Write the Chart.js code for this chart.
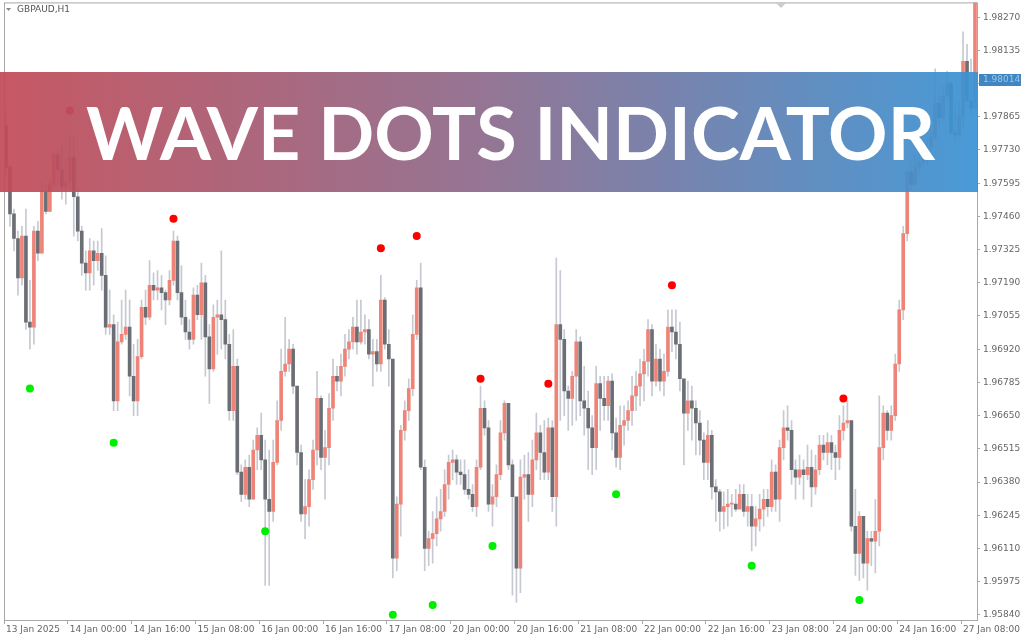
<!DOCTYPE html>
<html>
<head>
<meta charset="utf-8">
<script src="https://cdn.jsdelivr.net/npm/chart.js@4.4.1/dist/chart.umd.min.js"></script>
<style>
html,body{margin:0;padding:0;background:#fff;overflow:hidden;}
#wrap{position:relative;width:1024px;height:640px;overflow:hidden;}
#chart{position:absolute;left:0;top:-6px;}
</style>
</head>
<body>
<div id="wrap"><canvas id="chart" width="1024" height="646"></canvas></div>
<script>
// GBPAUD H1 candles
const firstOpen = 1.9783;

const closes = [
1.9766,1.9747,1.9737,1.9721,1.9738,1.9703,1.9701,1.9740,1.9731,1.9756,
1.9748,1.9759,1.9771,1.9765,1.9758,1.9760,1.9770,1.9754,1.9740,1.9727,
1.9723,1.9732,1.9728,1.9731,1.9722,1.9701,1.9702,1.9671,1.9695,1.9698,
1.9701,1.9681,1.9671,1.9689,1.9709,1.9705,1.9718,1.9716,1.9717,1.9715,
1.9712,1.9720,1.9736,1.9715,1.9705,1.9699,1.9696,1.9714,1.9706,1.9719,
1.9697,1.9684,1.9705,1.9706,1.9704,1.9694,1.9667,1.9685,1.9642,1.9633,
1.9644,1.9631,1.9651,1.9657,1.9647,1.9631,1.9626,1.9646,1.9663,1.9683,
1.9686,1.9692,1.9677,1.9650,1.9625,1.9628,1.9639,1.9651,1.9672,1.9648,
1.9652,1.9668,1.9681,1.9679,1.9685,1.9692,1.9695,1.9701,1.9695,1.9699,
1.9700,1.9690,1.9691,1.9686,1.9712,1.9694,1.9688,1.9607,1.9629,1.9659,
1.9667,1.9676,1.9698,1.9717,1.9644,1.9611,1.9615,1.9617,1.9623,1.9626,
1.9637,1.9646,1.9647,1.9642,1.9641,1.9635,1.9633,1.9628,1.9644,1.9668,
1.9660,1.9629,1.9632,1.9641,1.9658,1.9670,1.9645,1.9632,1.9603,1.9640,
1.9641,1.9633,1.9647,1.9658,1.9650,1.9642,1.9660,1.9632,1.9702,1.9696,
1.9675,1.9672,1.9681,1.9695,1.9671,1.9668,1.9660,1.9652,1.9678,1.9672,
1.9669,1.9679,1.9658,1.9648,1.9661,1.9663,1.9667,1.9673,1.9677,1.9682,
1.9687,1.9700,1.9679,1.9688,1.9679,1.9683,1.9701,1.9699,1.9694,1.9680,
1.9666,1.9671,1.9668,1.9662,1.9655,1.9646,1.9657,1.9636,1.9634,1.9626,
1.9628,1.9629,1.9629,1.9627,1.9633,1.9626,1.9628,1.9620,1.9623,1.9627,
1.9631,1.9628,1.9642,1.9631,1.9652,1.9660,1.9659,1.9643,1.9640,1.9643,
1.9641,1.9644,1.9636,1.9643,1.9653,1.9650,1.9654,1.9650,1.9648,1.9659,
1.9662,1.9663,1.9620,1.9609,1.9624,1.9605,1.9615,1.9614,1.9618,1.9652,
1.9666,1.9659,1.9665,1.9686,1.9708,1.9739,1.9764,1.9759,1.9766,1.9768,
1.9772,1.9774,1.9778,1.9792,1.9786,1.9795,1.9800,1.9780,1.9779,1.9787,
1.9809,1.9793,1.9790,1.9833
];

const highs = [
1.9789,1.9767,1.9749,1.9740,1.9742,1.9749,1.9720,1.9742,1.9744,1.9760,
1.9759,1.9761,1.9773,1.9773,1.9775,1.9769,1.9779,1.9779,1.9757,1.9742,
1.9732,1.9737,1.9736,1.9736,1.9741,1.9730,1.9716,1.9706,1.9703,1.9712,
1.9716,1.9712,1.9694,1.9696,1.9712,1.9716,1.9728,1.9723,1.9724,1.9722,
1.9716,1.9724,1.9740,1.9738,1.9726,1.9712,1.9704,1.9717,1.9718,1.9727,
1.9722,1.9702,1.9710,1.9712,1.9732,1.9712,1.9698,1.9700,1.9688,1.9645,
1.9647,1.9649,1.9655,1.9660,1.9666,1.9655,1.9651,1.9655,1.9671,1.9692,
1.9705,1.9696,1.9694,1.9675,1.9653,1.9639,1.9643,1.9655,1.9683,1.9673,
1.9659,1.9674,1.9688,1.9685,1.9690,1.9698,1.9700,1.9705,1.9712,1.9712,
1.9706,1.9704,1.9696,1.9696,1.9722,1.9713,1.9700,1.9677,1.9632,1.9661,
1.9671,1.9680,1.9706,1.9720,1.9727,1.9647,1.9618,1.9626,1.9632,1.9635,
1.9643,1.9649,1.9651,1.9649,1.9647,1.9647,1.9643,1.9637,1.9647,1.9677,
1.9671,1.9663,1.9637,1.9645,1.9663,1.9671,1.9670,1.9647,1.9622,1.9647,
1.9649,1.9650,1.9655,1.9666,1.9661,1.9663,1.9664,1.9663,1.9729,1.9724,
1.9700,1.9677,1.9683,1.9700,1.9697,1.9685,1.9675,1.9665,1.9685,1.9681,
1.9681,1.9681,1.9682,1.9664,1.9669,1.9669,1.9671,1.9681,1.9683,1.9688,
1.9692,1.9704,1.9702,1.9694,1.9692,1.9690,1.9708,1.9708,1.9708,1.9703,
1.9679,1.9679,1.9677,1.9671,1.9667,1.9658,1.9663,1.9659,1.9639,1.9635,
1.9634,1.9635,1.9633,1.9635,1.9637,1.9637,1.9633,1.9633,1.9628,1.9633,
1.9635,1.9635,1.9647,1.9645,1.9655,1.9667,1.9669,1.9663,1.9647,1.9649,
1.9647,1.9653,1.9651,1.9649,1.9657,1.9657,1.9658,1.9657,1.9653,1.9665,
1.9669,1.9671,1.9663,1.9635,1.9626,1.9624,1.9618,1.9618,1.9631,1.9673,
1.9669,1.9667,1.9669,1.9690,1.9712,1.9742,1.9765,1.9769,1.9771,1.9773,
1.9777,1.9777,1.9781,1.9806,1.9795,1.9799,1.9805,1.9801,1.9791,1.9793,
1.9821,1.9816,1.9810,1.9834
];

const lows = [
1.9763,1.9742,1.9732,1.9714,1.9718,1.9700,1.9692,1.9694,1.9728,1.9731,
1.9747,1.9748,1.9758,1.9759,1.9753,1.9751,1.9757,1.9738,1.9736,1.9722,
1.9716,1.9716,1.9718,1.9724,1.9716,1.9698,1.9698,1.9667,1.9667,1.9694,
1.9696,1.9673,1.9665,1.9665,1.9688,1.9702,1.9704,1.9712,1.9712,1.9708,
1.9702,1.9710,1.9718,1.9712,1.9702,1.9696,1.9692,1.9694,1.9704,1.9696,
1.9681,1.9670,1.9683,1.9690,1.9692,1.9688,1.9663,1.9663,1.9641,1.9630,
1.9631,1.9628,1.9631,1.9643,1.9643,1.9596,1.9596,1.9622,1.9645,1.9659,
1.9681,1.9683,1.9674,1.9645,1.9622,1.9615,1.9620,1.9635,1.9645,1.9643,
1.9631,1.9645,1.9663,1.9675,1.9673,1.9681,1.9688,1.9692,1.9690,1.9694,
1.9694,1.9688,1.9677,1.9683,1.9683,1.9692,1.9677,1.9599,1.9602,1.9616,
1.9655,1.9663,1.9673,1.9696,1.9643,1.9602,1.9604,1.9605,1.9612,1.9618,
1.9624,1.9631,1.9639,1.9637,1.9637,1.9633,1.9631,1.9626,1.9624,1.9643,
1.9657,1.9626,1.9620,1.9628,1.9639,1.9655,1.9643,1.9592,1.9589,1.9593,
1.9631,1.9622,1.9628,1.9643,1.9639,1.9639,1.9639,1.9626,1.9620,1.9663,
1.9665,1.9659,1.9661,1.9663,1.9665,1.9657,1.9643,1.9641,1.9643,1.9659,
1.9663,1.9663,1.9651,1.9644,1.9643,1.9653,1.9659,1.9661,1.9667,1.9669,
1.9671,1.9681,1.9673,1.9677,1.9675,1.9673,1.9681,1.9691,1.9688,1.9675,
1.9645,1.9659,1.9655,1.9649,1.9649,1.9639,1.9639,1.9631,1.9622,1.9618,
1.9619,1.9620,1.9624,1.9626,1.9631,1.9624,1.9620,1.9610,1.9612,1.9618,
1.9620,1.9624,1.9626,1.9626,1.9622,1.9647,1.9655,1.9637,1.9631,1.9637,
1.9631,1.9639,1.9628,1.9633,1.9641,1.9647,1.9645,1.9643,1.9639,1.9643,
1.9655,1.9660,1.9618,1.9600,1.9598,1.9599,1.9594,1.9604,1.9601,1.9612,
1.9647,1.9655,1.9655,1.9663,1.9683,1.9704,1.9736,1.9757,1.9759,1.9763,
1.9765,1.9767,1.9773,1.9777,1.9783,1.9785,1.9793,1.9779,1.9777,1.9781,
1.9782,1.9791,1.9787,1.9790
];

// wave dots: bar index and price
const redIdx = [16, 42, 94, 103, 119, 136, 167, 210];
const redPrice = [1.9789, 1.9745, 1.9733, 1.9738, 1.9680, 1.9678, 1.9718, 1.9672];
const greenIdx = [6, 27, 65, 97, 107, 122, 153, 187, 214];
const greenPrice = [1.9676, 1.9654, 1.9618, 1.9584, 1.9588, 1.9612, 1.9633, 1.9604, 1.9590];

// time axis labels, one every 16 bars
const timeLabels = ["13 Jan 2025","14 Jan 00:00","14 Jan 16:00","15 Jan 08:00","16 Jan 00:00",
"16 Jan 16:00","17 Jan 08:00","20 Jan 00:00","20 Jan 16:00","21 Jan 08:00","22 Jan 00:00",
"22 Jan 16:00","23 Jan 08:00","24 Jan 00:00","24 Jan 16:00","27 Jan 08:00"];
const priceTicks = [1.95840,1.95975,1.96110,1.96245,1.96380,1.96515,1.96650,1.96785,1.96920,
1.97055,1.97190,1.97325,1.97460,1.97595,1.97730,1.97865,1.98000,1.98135,1.98270];
const lastPrice = "1.98014";

const N = closes.length;
const opens = closes.map((c,i)=> i===0 ? firstOpen : closes[i-1]);
const labels = closes.map((c,i)=> i%16===0 ? (timeLabels[i/16]||"") : "");
const bull = "#ee8478", bear = "#6b6e74";
const bodyColors = closes.map((c,i)=> c>=opens[i] ? bull : bear);

const redData = new Array(N).fill(null);
redIdx.forEach((k,j)=>redData[k]=redPrice[j]);
const greenData = new Array(N).fill(null);
greenIdx.forEach((k,j)=>greenData[k]=greenPrice[j]);

// canvas sits 6px above the page, so page y = canvas y - 6
const OFF = 6;

const overlay = {
  id:"overlay",
  afterDraw(chart){
    const ctx = chart.ctx, a = chart.chartArea;
    ctx.save();
    // frame
    ctx.strokeStyle = "#a8a8a8"; ctx.lineWidth = 1;
    ctx.strokeRect(a.left+0.5, a.top+0.5, a.right-a.left, a.bottom-a.top);
    ctx.translate(0, OFF);
    // symbol label
    ctx.fillStyle = "#888";
    ctx.beginPath(); ctx.moveTo(6,8); ctx.lineTo(11,8); ctx.lineTo(8.5,11); ctx.fill();
    ctx.fillStyle = "#555"; ctx.font = "9px 'DejaVu Sans'"; ctx.textBaseline = "middle";
    ctx.fillText("GBPAUD,H1", 17, 10);
    ctx.fillStyle = "#ccc";
    ctx.beginPath(); ctx.moveTo(776,3); ctx.lineTo(786,3); ctx.lineTo(781,8); ctx.fill();
    // banner
    const g = ctx.createLinearGradient(0,0,978,0);
    g.addColorStop(0,"#c24b57"); g.addColorStop(0.5,"#8c6b8c"); g.addColorStop(1,"#3a93d4");
    ctx.globalAlpha = 0.93; ctx.fillStyle = g; ctx.fillRect(0,72,978,120);
    ctx.globalAlpha = 1;
    // last price label
    ctx.fillStyle = "#3f86c2"; ctx.fillRect(979,74,42,12);
    ctx.fillStyle = "#9fc6ea"; ctx.font = "9px 'DejaVu Sans'"; ctx.textAlign = "left";
    ctx.fillText(lastPrice, 983, 80);
    // title
    ctx.fillStyle = "#fff"; ctx.textBaseline = "alphabetic";
    ctx.font = "bold 78px Lato";
    const w = ctx.measureText("WAVE DOTS INDICATOR").width;
    ctx.translate(86,160); ctx.scale(849/w, 0.94);
    ctx.fillText("WAVE DOTS INDICATOR", 0, 0);
    ctx.restore();
  }
};

new Chart(document.getElementById("chart"),{
  type:"bar",
  data:{
    labels:labels,
    datasets:[
      {type:"line", data:redData, showLine:false, pointRadius:4, pointHoverRadius:4,
       pointBackgroundColor:"#ff0000", pointBorderWidth:0, order:0},
      {type:"line", data:greenData, showLine:false, pointRadius:4, pointHoverRadius:4,
       pointBackgroundColor:"#00ee00", pointBorderWidth:0, order:0},
      {data:closes.map((c,i)=>[opens[i],c]), backgroundColor:bodyColors,
       barThickness:3, minBarLength:1, grouped:false, order:1},
      {data:closes.map((c,i)=>[lows[i],highs[i]]), backgroundColor:"#c6c9d1",
       barThickness:1, grouped:false, order:2}
    ]
  },
  options:{
    responsive:false, animation:false,
    layout:{padding:{left:3, top:0, right:0, bottom:0}},
    plugins:{legend:{display:false}, tooltip:{enabled:false}},
    scales:{
      x:{
        grid:{drawOnChartArea:false, tickLength:4,
          color:(c)=> (c.index%16===0) ? "#a8a8a8" : "rgba(0,0,0,0)"},
        border:{display:false},
        ticks:{autoSkip:false, maxRotation:0, align:"start", padding:0,
          color:"#666", font:{family:"DejaVu Sans", size:9}},
        afterFit(s){ s.height = 20; }
      },
      y:{
        position:"right", min:1.95819, max:1.9833,
        grid:{drawOnChartArea:false, tickLength:3, color:"#a8a8a8"},
        border:{display:false},
        ticks:{padding:3, color:"#666", font:{family:"DejaVu Sans", size:9},
          callback:(v)=> v===1.98 ? "" : v.toFixed(5)},
        afterBuildTicks(s){ s.ticks = priceTicks.map(v=>({value:v})); },
        afterFit(s){ s.width = 47; }
      }
    }
  },
  plugins:[overlay]
});
</script>
</body>
</html>
